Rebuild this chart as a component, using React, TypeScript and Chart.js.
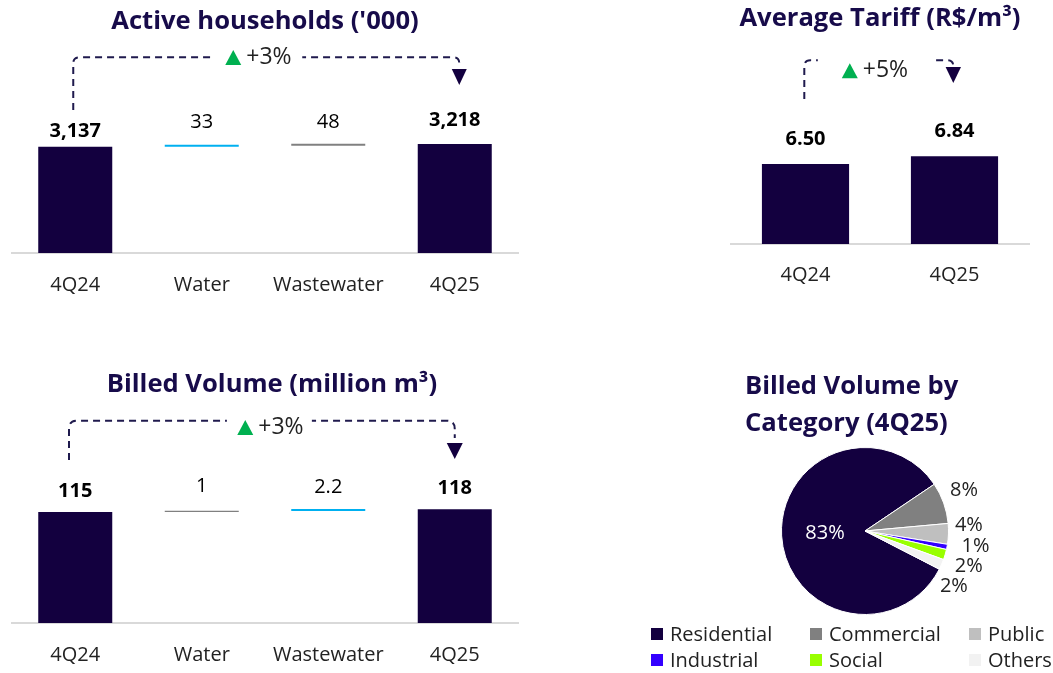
import React, { useEffect, useRef } from "react";
import { Chart, registerables } from "chart.js";

Chart.register(...registerables);

// ---------------- data ----------------
const householdsCategories = ["4Q24", "Water", "Wastewater", "4Q25"];
const householdsValues = [3137, 33, 48, 3218];
const householdsGrowth = "+3%";

const tariffCategories = ["4Q24", "4Q25"];
const tariffValues = [6.5, 6.84];
const tariffGrowth = "+5%";

const volumeCategories = ["4Q24", "Water", "Wastewater", "4Q25"];
const volumeValues = [115, 1, 2.2, 118];
const volumeGrowth = "+3%";

const mixCategories = ["Residential", "Commercial", "Public", "Industrial", "Social", "Others"];
const mixShares = [83, 8, 4, 1, 2, 2];

// ---------------- styles ----------------
const FONT = "'Open Sans', 'Noto Sans', sans-serif";
const NAVY = "#13003f";
const TITLE = "#170b4a";
const CYAN = "#00b0f0";
const GRAY = "#808080";
const TEXT = "#222222";
const LABEL = "#000000";
const GREEN = "#00b050";
const ARROW = "#1f1a4d";
const AXIS = "#d9d9d9";
const TITLE_SIZE = 25.6;
const mixColors = ["#13003f", "#808080", "#bfbfbf", "#3300ff", "#99ff00", "#f2f2f2"];
// label nudges for pie: [angle shift in degrees, radius shift from outer edge]
const mixLabelNudge: [number, number][] = [[0, -43.5], [-2.6, 23.5], [-5, 20.5], [-3.3, 28], [2.2, 26], [8.1, 21]];

type ArrowStyle = {
  dxStart: number;
  dxEnd: number;
  yStart: number;
  yLine: number;
  yEnd: number;
  radius: number;
  headTop: number;
  headBottom: number;
  headHalf: number;
  gapL: number;
  gapR: number;
  labelDx: number;
  labelY: number;
};

function waterfall(values: number[]): [number, number][] {
  const out: [number, number][] = [[0, values[0]]];
  let run = values[0];
  for (let i = 1; i < values.length - 1; i++) {
    out.push([run, run + values[i]]);
    run += values[i];
  }
  out.push([0, values[values.length - 1]]);
  return out;
}

function drawArrow(ctx: CanvasRenderingContext2D, x0: number, x1: number, a: ArrowStyle, growth: string) {
  const r = a.radius;
  ctx.save();
  ctx.strokeStyle = ARROW;
  ctx.lineWidth = 2;
  ctx.setLineDash([7, 5]);
  ctx.beginPath();
  ctx.moveTo(x0, a.yStart);
  ctx.lineTo(x0, a.yLine + r);
  ctx.quadraticCurveTo(x0, a.yLine, x0 + r, a.yLine);
  ctx.lineTo(x1 - r, a.yLine);
  ctx.quadraticCurveTo(x1, a.yLine, x1, a.yLine + r);
  ctx.lineTo(x1, a.yEnd);
  ctx.stroke();
  ctx.setLineDash([]);
  ctx.fillStyle = NAVY;
  ctx.beginPath();
  ctx.moveTo(x1 - a.headHalf, a.headTop);
  ctx.lineTo(x1 + a.headHalf, a.headTop);
  ctx.lineTo(x1, a.headBottom);
  ctx.closePath();
  ctx.fill();
  const mid = (x0 + x1) / 2;
  ctx.fillStyle = "#ffffff";
  ctx.fillRect(mid + a.gapL, a.yLine - 4, a.gapR - a.gapL, 8);
  const gx = mid + a.labelDx;
  ctx.fillStyle = GREEN;
  ctx.beginPath();
  ctx.moveTo(gx, a.labelY + 7.5);
  ctx.lineTo(gx + 16, a.labelY + 7.5);
  ctx.lineTo(gx + 8, a.labelY - 7.5);
  ctx.closePath();
  ctx.fill();
  ctx.fillStyle = TEXT;
  ctx.font = `normal 23px ${FONT}`;
  ctx.textAlign = "left";
  ctx.textBaseline = "middle";
  ctx.fillText(growth, gx + 21, a.labelY);
  ctx.restore();
}

type BarSpec = {
  title: string;
  categories: string[];
  bars: [number, number][];
  labels: string[];
  bold: boolean[];
  colors: string[];
  yMin: number;
  yMax: number;
  titlePad: { top: number; bottom: number };
  layoutPad: { left: number; right: number; top: number; bottom: number };
  rightSpacer: number;
  tickPad: number;
  labelGaps: number[];
  minBar: number;
  growth: string;
  arrow: ArrowStyle;
};

function makeBarConfig(s: BarSpec): any {
  const plugin = {
    id: "barAnnotations",
    afterDatasetsDraw(chart: any) {
      const ctx: CanvasRenderingContext2D = chart.ctx;
      const meta = chart.getDatasetMeta(0);
      ctx.save();
      ctx.textAlign = "center";
      ctx.textBaseline = "middle";
      ctx.fillStyle = LABEL;
      meta.data.forEach((el: any, i: number) => {
        const top = Math.min(el.y, el.base);
        ctx.font = `${s.bold[i] ? "bold" : "normal"} 20px ${FONT}`;
        ctx.fillText(s.labels[i], el.x, top - s.labelGaps[i]);
      });
      ctx.restore();
      const first = meta.data[0];
      const last = meta.data[meta.data.length - 1];
      drawArrow(ctx, first.x + s.arrow.dxStart, last.x + s.arrow.dxEnd, s.arrow, s.growth);
    },
  };
  const spacer = s.rightSpacer;
  return {
    type: "bar",
    data: {
      labels: s.categories,
      datasets: [
        {
          data: s.bars,
          backgroundColor: s.colors,
          borderWidth: 0,
          barPercentage: 0.585,
          categoryPercentage: 1,
          minBarLength: s.minBar,
        },
      ],
    },
    options: {
      responsive: false,
      animation: false,
      devicePixelRatio: 1,
      layout: { padding: s.layoutPad },
      plugins: {
        legend: { display: false },
        tooltip: { enabled: false },
        title: {
          display: true,
          text: s.title,
          color: TITLE,
          font: { family: FONT, size: TITLE_SIZE, weight: "bold", lineHeight: 1.2 },
          padding: s.titlePad,
        },
      },
      scales: {
        x: {
          grid: { display: false, drawTicks: false },
          border: { display: true, color: AXIS, width: 2 },
          ticks: {
            color: TEXT,
            font: { family: FONT, size: 20, lineHeight: 1.2 },
            padding: s.tickPad,
            maxRotation: 0,
            minRotation: 0,
            autoSkip: false,
          },
        },
        y: {
          display: spacer > 0,
          position: "right",
          min: s.yMin,
          max: s.yMax,
          grid: { display: false, drawTicks: false },
          border: { display: false },
          ticks: { display: false },
          afterFit: (scale: any) => {
            scale.width = spacer;
          },
        },
      },
    },
    plugins: [plugin],
  };
}

function makePieConfig(): any {
  const plugin = {
    id: "pieLabels",
    afterDatasetsDraw(chart: any) {
      const ctx: CanvasRenderingContext2D = chart.ctx;
      const meta = chart.getDatasetMeta(0);
      ctx.save();
      ctx.textAlign = "center";
      ctx.textBaseline = "middle";
      ctx.font = `normal 20px ${FONT}`;
      meta.data.forEach((arc: any, i: number) => {
        const n = mixLabelNudge[i];
        const ang = (arc.startAngle + arc.endAngle) / 2 + (n[0] * Math.PI) / 180;
        const rr = arc.outerRadius + n[1];
        ctx.fillStyle = i === 0 ? "#ffffff" : TEXT;
        ctx.fillText(`${mixShares[i]}%`, arc.x + Math.cos(ang) * rr, arc.y + Math.sin(ang) * rr);
      });
      ctx.restore();
    },
  };
  return {
    type: "pie",
    data: {
      labels: mixCategories,
      datasets: [
        {
          data: mixShares,
          backgroundColor: mixColors,
          borderColor: "#ffffff",
          borderWidth: 1,
        },
      ],
    },
    options: {
      responsive: false,
      animation: false,
      devicePixelRatio: 1,
      rotation: 117.2,
      layout: { padding: { left: 25, right: 68, top: 0, bottom: 58 } },
      plugins: {
        legend: { display: false },
        tooltip: { enabled: false },
        title: {
          display: true,
          align: "start",
          text: ["Billed Volume by", "Category (4Q25)"],
          color: TITLE,
          font: { family: FONT, size: TITLE_SIZE, weight: "bold", lineHeight: 1.445 },
          padding: { top: 13.5, bottom: 4.5 },
        },
      },
    },
    plugins: [plugin],
  };
}

function ChartBox(props: { left: number; top: number; width: number; height: number; make: () => any }) {
  const ref = useRef<HTMLCanvasElement | null>(null);
  useEffect(() => {
    if (!ref.current) return;
    const chart = new Chart(ref.current, props.make());
    return () => chart.destroy();
  }, []);
  return (
    <canvas
      ref={ref}
      width={props.width}
      height={props.height}
      style={{ position: "absolute", left: props.left, top: props.top, width: props.width, height: props.height }}
    />
  );
}

const householdsSpec: BarSpec = {
  title: "Active households ('000)",
  categories: householdsCategories,
  bars: waterfall(householdsValues),
  labels: householdsValues.map((v) => v.toLocaleString("en-US")),
  bold: [true, false, false, true],
  colors: [NAVY, CYAN, GRAY, NAVY],
  yMin: 0,
  yMax: 5700,
  titlePad: { top: 6.6, bottom: 22.7 },
  layoutPad: { left: 12, right: 12, top: 0, bottom: 13 },
  rightSpacer: 0,
  tickPad: 20,
  labelGaps: [15.3, 22.3, 21.2, 24],
  minBar: 2,
  growth: householdsGrowth,
  arrow: {
    dxStart: -2, dxEnd: 4.5, yStart: 110, yLine: 57.3, yEnd: 65, radius: 6,
    headTop: 69, headBottom: 85, headHalf: 7.5, gapL: -53, gapR: 36, labelDx: -41, labelY: 57.5,
  },
};

const tariffSpec: BarSpec = {
  title: "Average Tariff (R$/m³)",
  categories: tariffCategories,
  bars: tariffValues.map((v) => [3, v] as [number, number]),
  labels: tariffValues.map((v) => v.toFixed(2)),
  bold: [true, true],
  colors: [NAVY, NAVY],
  yMin: 3,
  yMax: 10,
  titlePad: { top: 3.6, bottom: 49.7 },
  layoutPad: { left: 12, right: 24, top: 0, bottom: 24 },
  rightSpacer: 0,
  tickPad: 19,
  labelGaps: [24.8, 24.7],
  minBar: 0,
  growth: tariffGrowth,
  arrow: {
    dxStart: -1.2, dxEnd: -1.2, yStart: 99, yLine: 60.3, yEnd: 66, radius: 6,
    headTop: 67, headBottom: 83, headHalf: 7.7, gapL: -61, gapR: 56, labelDx: -37, labelY: 70.8,
  },
};

const volumeSpec: BarSpec = {
  title: "Billed Volume (million m³)",
  categories: volumeCategories,
  bars: waterfall(volumeValues),
  labels: volumeValues.map((v) => String(v)),
  bold: [true, false, false, true],
  colors: [NAVY, GRAY, CYAN, NAVY],
  yMin: 0,
  yMax: 200,
  titlePad: { top: 14.6, bottom: 29.7 },
  layoutPad: { left: 12, right: 2, top: 0, bottom: 6 },
  rightSpacer: 14,
  tickPad: 20,
  labelGaps: [20.5, 24, 21.4, 20.4],
  minBar: 1.4,
  growth: volumeGrowth,
  arrow: {
    dxStart: -6.25, dxEnd: 0, yStart: 105, yLine: 65.7, yEnd: 83, radius: 8,
    headTop: 88, headBottom: 104, headHalf: 8, gapL: -35, gapR: 50, labelDx: -24.6, labelY: 72.5,
  },
};

function Legend() {
  return (
    <div
      style={{
        position: "absolute",
        left: 651,
        top: 621,
        display: "grid",
        gridTemplateColumns: "159px 159px auto",
        gridAutoRows: "26px",
        fontFamily: FONT,
        fontSize: 20,
        lineHeight: "26px",
        color: TEXT,
        whiteSpace: "nowrap",
      }}
    >
      {mixCategories.map((c, i) => (
        <div key={c} style={{ display: "flex", alignItems: "center" }}>
          <span style={{ display: "inline-block", width: 12, height: 12, background: mixColors[i], marginRight: 7 }} />
          <span>{c}</span>
        </div>
      ))}
    </div>
  );
}

export default function App() {
  return (
    <div style={{ position: "absolute", left: 0, top: 0, width: 1053, height: 673, background: "#ffffff", overflow: "hidden" }}>
      <ChartBox left={0} top={0} width={530} height={330} make={() => makeBarConfig(householdsSpec)} />
      <ChartBox left={719} top={0} width={334} height={330} make={() => makeBarConfig(tariffSpec)} />
      <ChartBox left={0} top={355} width={534} height={338} make={() => makeBarConfig(volumeSpec)} />
      <ChartBox left={720} top={355} width={333} height={318} make={makePieConfig} />
      <Legend />
    </div>
  );
}
